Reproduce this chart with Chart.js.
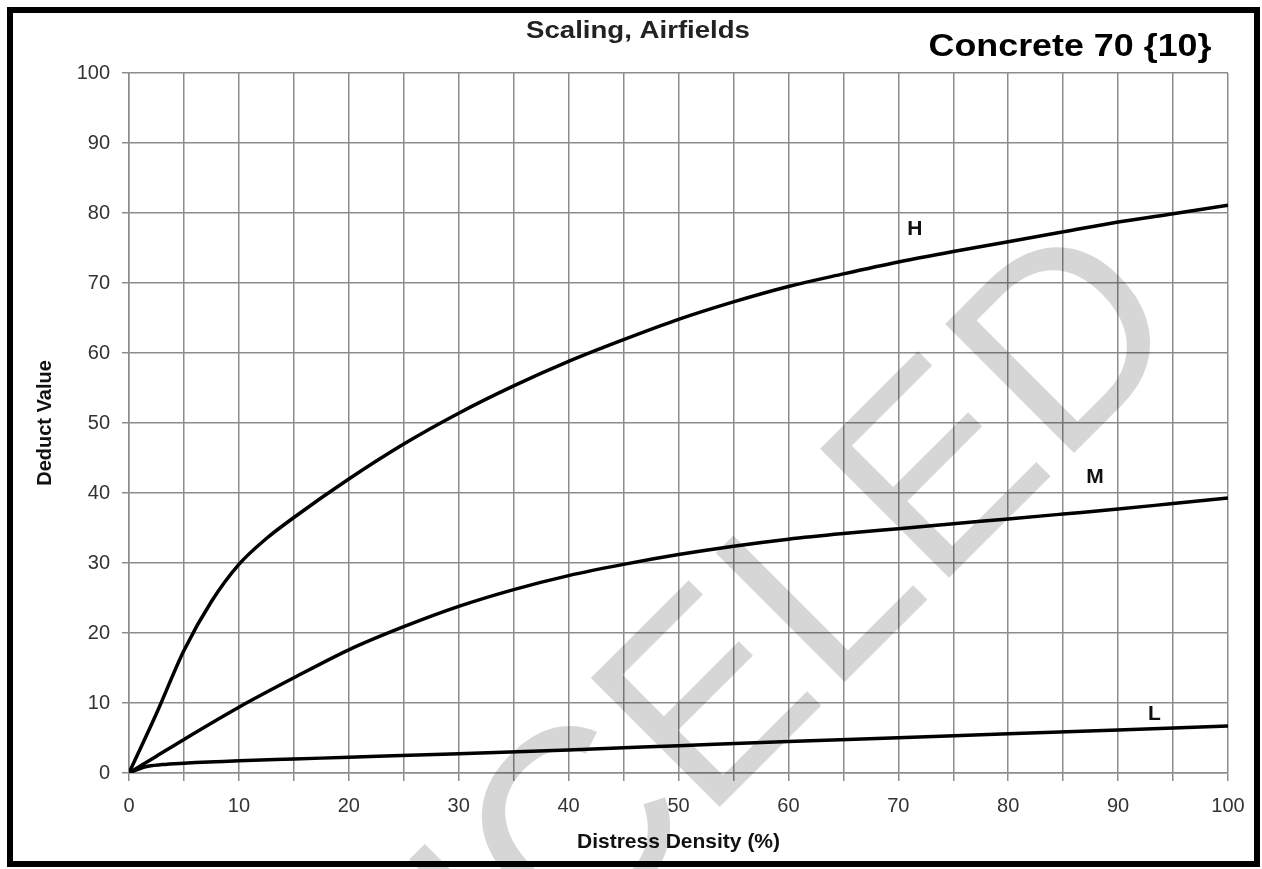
<!DOCTYPE html>
<html>
<head>
<meta charset="utf-8">
<script src="https://cdn.jsdelivr.net/npm/chart.js@4.4.1/dist/chart.umd.min.js"></script>
<style>
  html, body { margin: 0; padding: 0; background: #fff; }
</style>
</head>
<body>
<canvas id="chart" width="1262" height="869"></canvas>
<script>
// distress density (%) and deduct values
const densityH = [0, 2.5, 5, 7.5, 10, 12.5, 15, 20, 25, 30, 35, 40, 45, 50, 55, 60, 65, 70, 75, 80, 85, 90, 95, 100];
const deductH  = [0, 8.5, 17.5, 24.5, 29.8, 33.5, 36.5, 42, 47, 51.4, 55.3, 58.8, 61.9, 64.8, 67.3, 69.5, 71.3, 73, 74.5, 75.9, 77.3, 78.7, 79.9, 81.1];

const densityM = [0, 2.5, 5, 10, 15, 20, 25, 30, 35, 40, 45, 50, 55, 60, 65, 70, 75, 80, 85, 90, 95, 100];
const deductM  = [0, 2.4, 4.8, 9.4, 13.6, 17.6, 20.9, 23.8, 26.2, 28.2, 29.8, 31.2, 32.4, 33.4, 34.2, 34.9, 35.6, 36.3, 37.0, 37.7, 38.5, 39.3];

const densityL = [0, 1.5, 3, 5, 10, 15, 20, 30, 40, 50, 60, 70, 80, 90, 100];
const deductL  = [0, 0.9, 1.2, 1.4, 1.75, 2.0, 2.25, 2.75, 3.3, 3.9, 4.5, 5.05, 5.6, 6.15, 6.7];

// curve labels and where they sit (data units)
const curveNames = ['H', 'M', 'L'];
const curveNameX = [71.5, 87.9, 93.3];
const curveNameY = [77.7, 42.3, 8.4];

const xTicks = [0, 10, 20, 30, 40, 50, 60, 70, 80, 90, 100];

const FONT = '"Liberation Sans", Arial, sans-serif';
const gridColor = '#8c8c8c';

function toPoints(xs, ys) {
  return xs.map((x, i) => ({ x: x, y: ys[i] }));
}

function curve(label, xs, ys) {
  return {
    label: label,
    data: toPoints(xs, ys),
    borderColor: '#000',
    borderWidth: 3.5,
    pointRadius: 0,
    fill: false,
    cubicInterpolationMode: 'monotone'
  };
}

const decorations = {
  id: 'decorations',
  afterDraw(chart) {
    const ctx = chart.ctx;
    const xs = chart.scales.x, ys = chart.scales.y;
    ctx.save();

    ctx.fillStyle = '#111';
    ctx.textAlign = 'center';
    ctx.textBaseline = 'middle';
    ctx.font = 'bold 21px ' + FONT;
    curveNames.forEach((t, i) => {
      ctx.fillText(t, xs.getPixelForValue(curveNameX[i]), ys.getPixelForValue(curveNameY[i]));
    });

    // titles, a bit stretched like the original
    ctx.save();
    ctx.translate(638, 32);
    ctx.scale(1.2, 1);
    ctx.font = 'bold 23px ' + FONT;
    ctx.fillStyle = '#222';
    ctx.fillText('Scaling, Airfields', 0, 0);
    ctx.restore();

    ctx.save();
    ctx.translate(1070, 47);
    ctx.scale(1.12, 1);
    ctx.font = 'bold 32px ' + FONT;
    ctx.fillStyle = '#000';
    ctx.fillText('Concrete 70 {10}', 0, 0);
    ctx.restore();

    // watermark
    ctx.save();
    ctx.translate(1194, 333);
    ctx.rotate(-0.785);
    ctx.font = '265px ' + FONT;
    ctx.fillStyle = 'rgba(0,0,0,0.16)';
    ctx.textAlign = 'right';
    ctx.textBaseline = 'alphabetic';
    ctx.fillText('CANCELED', 0, 0);
    ctx.restore();

    // frame
    ctx.strokeStyle = '#000';
    ctx.lineWidth = 6;
    ctx.strokeRect(10, 10, 1247, 854);
    ctx.restore();
  }
};

new Chart(document.getElementById('chart'), {
  type: 'line',
  data: {
    datasets: [
      curve('H', densityH, deductH),
      curve('M', densityM, deductM),
      curve('L', densityL, deductL)
    ]
  },
  options: {
    responsive: false,
    animation: false,
    layout: { padding: { top: 73, right: 34, left: 0, bottom: 0 } },
    plugins: {
      legend: { display: false },
      tooltip: { enabled: false }
    },
    scales: {
      x: {
        type: 'linear',
        min: 0,
        max: 100,
        afterFit: s => { s.height = 96; },
        ticks: {
          stepSize: 5,
          padding: 13,
          color: '#333',
          font: { family: FONT, size: 20 },
          maxRotation: 0,
          autoSkip: false,
          callback: v => xTicks.includes(v) ? v : ''
        },
        grid: { color: gridColor, lineWidth: 1.5, tickLength: 8 },
        border: { color: gridColor, width: 1.5 },
        title: {
          display: true,
          text: 'Distress Density (%)',
          color: '#111',
          font: { family: FONT, size: 21, weight: 'bold' },
          padding: { top: 0, bottom: 14 }
        }
      },
      y: {
        min: 0,
        max: 100,
        afterFit: s => { s.width = 129; },
        ticks: {
          stepSize: 10,
          padding: 12,
          color: '#333',
          font: { family: FONT, size: 20 }
        },
        grid: { color: gridColor, lineWidth: 1.5, tickLength: 7 },
        border: { color: gridColor, width: 1.5 },
        title: {
          display: true,
          text: 'Deduct Value',
          color: '#111',
          font: { family: FONT, size: 20, weight: 'bold' },
          padding: { top: 33, bottom: 0 }
        }
      }
    }
  },
  plugins: [decorations]
});
</script>
</body>
</html>
